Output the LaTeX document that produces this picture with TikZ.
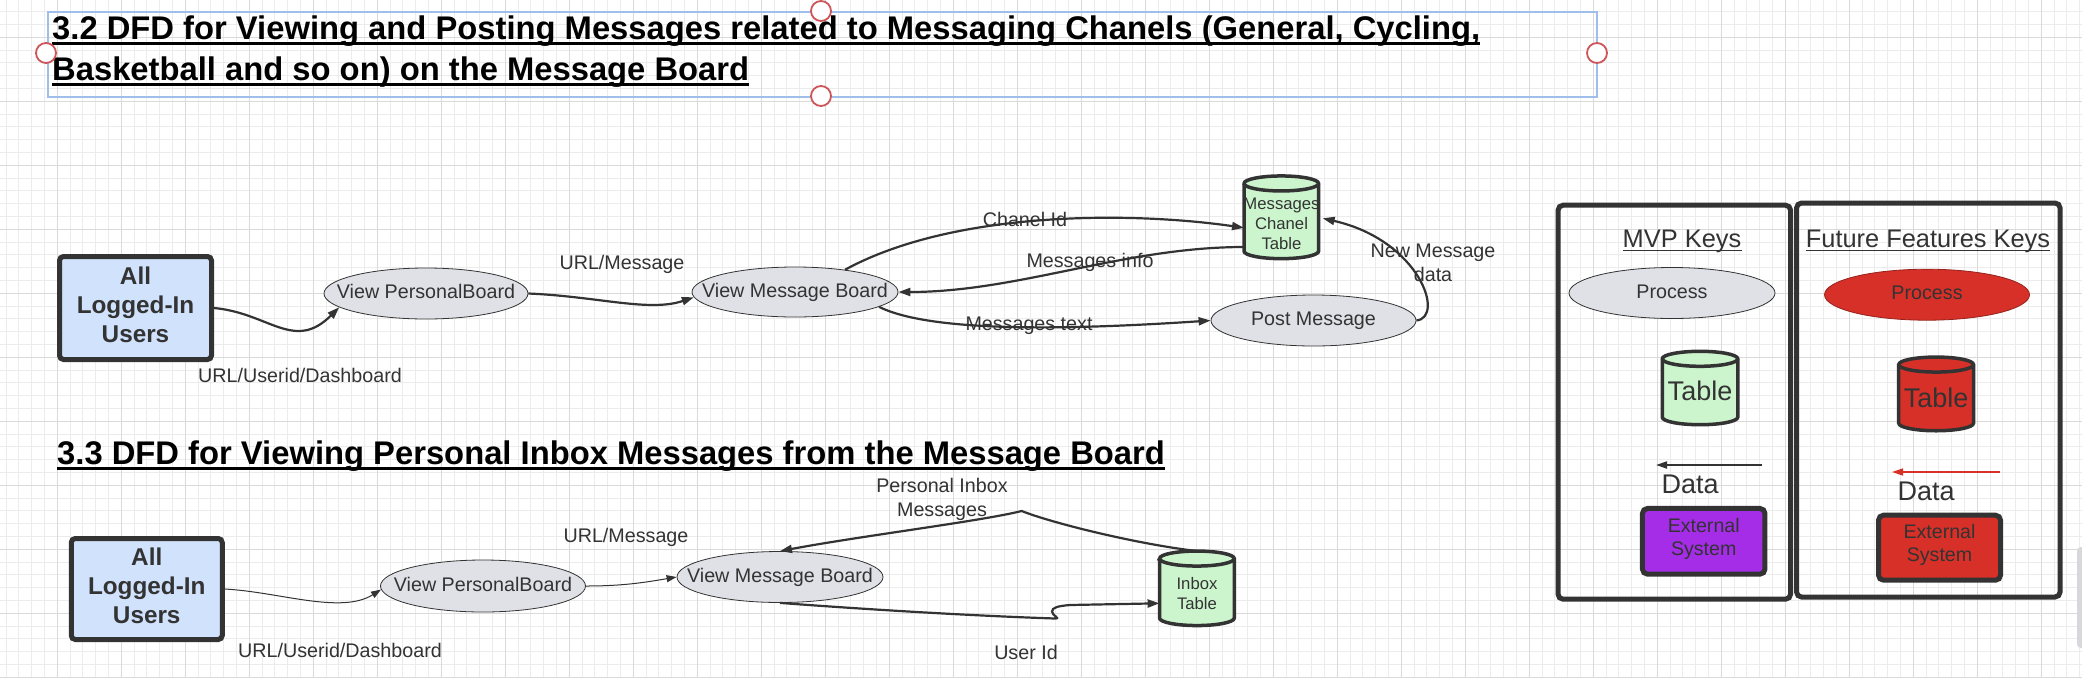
\documentclass[tikz,border=0pt]{standalone}
\usepackage{fontspec}
\setmainfont{Liberation Sans}
\usetikzlibrary{arrows.meta,calc,shapes.geometric}

\definecolor{ink}{RGB}{51,51,51}
\definecolor{procgrey}{RGB}{223,225,230}
\definecolor{tablegreen}{RGB}{204,245,206}
\definecolor{userblue}{RGB}{208,226,252}
\definecolor{keyred}{RGB}{214,48,40}
\definecolor{keypurple}{RGB}{165,45,232}
\definecolor{minorgrid}{RGB}{236,236,236}
\definecolor{majorgrid}{RGB}{218,218,218}
\definecolor{selblue}{RGB}{160,190,235}
\definecolor{handlered}{RGB}{205,85,90}
\definecolor{scrollgrey}{RGB}{215,215,220}

\newcommand{\drawcyl}[4]{%
  \draw[cylline, fill=#2] ($(#1.north west)+(0,#4)$) -- ($(#1.south west)+(0,-#4)$)
    arc[start angle=180, end angle=360, x radius=#3pt, y radius=#4pt]
    -- ($(#1.north east)+(0,#4)$)
    arc[start angle=0, end angle=180, x radius=#3pt, y radius=#4pt] -- cycle;
  \draw[cylline] ($(#1.north west)+(0,#4)$)
    arc[start angle=180, end angle=360, x radius=#3pt, y radius=#4pt];
}

\begin{document}
\begin{tikzpicture}[x=1pt,y=-1pt,
  proc/.style={ellipse, draw=ink, line width=0.8pt, fill=procgrey, inner sep=0pt, text=ink,
    text height=14.5pt, text depth=4pt, font=\fontsize{19.7}{23}\selectfont},
  users/.style={rectangle, rounded corners=4pt, draw=ink, line width=5pt, fill=userblue,
    align=center, text=ink, text depth=6.5pt, font=\fontsize{24.3}{29}\selectfont\bfseries, inner sep=0pt},
  cylbox/.style={rectangle, inner sep=0pt, outer sep=0pt},
  cylline/.style={draw=ink, line width=3.5pt},
  cyltext/.style={text=ink, align=center, inner sep=0pt, font=\fontsize{16.7}{20}\selectfont},
  lbl/.style={text=ink, align=center, inner sep=0pt, font=\fontsize{19.7}{24}\selectfont},
  flow/.style={draw=ink, line width=2.2pt, -{Triangle[length=12pt,width=8pt]}},
  thinflow/.style={draw=ink, line width=1pt, -{Triangle[length=10pt,width=7pt]}},
  titletext/.style={font=\fontsize{32.75}{39}\selectfont\bfseries, text=black, inner sep=0pt, anchor=base west},
  uline/.style={draw=black, line width=2.5pt},
  keybox/.style={rectangle, rounded corners=5pt, draw=ink, line width=5pt, inner sep=0pt},
  keytitle/.style={text=ink, inner sep=0pt, anchor=base, font=\fontsize{25.4}{30}\selectfont},
  keyuline/.style={draw=ink, line width=1.6pt},
  bigtext/.style={text=ink, inner sep=0pt, font=\fontsize{27}{30}\selectfont},
  extsys/.style={rectangle, rounded corners=5pt, draw=ink, line width=5pt, align=center, text=ink,
    text depth=9pt, font=\fontsize{19.6}{23.3}\selectfont, inner sep=0pt},
  dataflow/.style={draw=ink, line width=1.8pt, -{Triangle[length=11pt,width=7pt]}},
  reddataflow/.style={draw=keyred, line width=1.5pt, -{Triangle[length=11pt,width=7pt]}},
]
\useasboundingbox (0,0) rectangle (2082,678);
\fill[white] (0,0) rectangle (2082,678);

% background grid
\begin{scope}
\clip (0,0) rectangle (2082,678);
\foreach \i in {0,...,163} \draw[minorgrid, line width=1pt] ({6.1+12.8*\i},0) -- ++(0,678);
\foreach \i in {0,...,52} \draw[minorgrid, line width=1pt] (0,{11.7+12.8*\i}) -- ++(2082,0);
\foreach \i in {0,...,32} \draw[majorgrid, line width=1.2pt] ({57.3+64*\i},0) -- ++(0,678);
\foreach \i in {0,...,10} \draw[majorgrid, line width=1.2pt] (0,{37.3+64*\i}) -- ++(2082,0);
\fill[scrollgrey, rounded corners=4pt] (2077,547) rectangle (2095,648);
\end{scope}

% ===== title 3.2 with selection frame =====
\node[titletext] (t1a) at (52,39.5) {3.2 DFD for Viewing and Posting Messages related to Messaging Chanels (General, Cycling,};
\node[titletext] (t1b) at (52,80.5) {Basketball and so on) on the Message Board};
\draw[uline] ($(t1a.base west)+(0,4)$) -- ($(t1a.base east)+(0,4)$);
\draw[uline] ($(t1b.base west)+(0,4)$) -- ($(t1b.base east)+(0,4)$);
\draw[selblue, line width=1.3pt] (48,12) rectangle (1597,97);
\foreach \p in {(821,11),(46,53),(1597,53),(821,96)}
  \draw[handlered, line width=1.8pt, fill=white] \p circle[radius=10pt];

% ===== DFD 3.2 =====
\node[users, minimum width=152pt, minimum height=103pt] (u1) at (135.5,308) {All\\Logged-In\\Users};
\node[proc, minimum width=204pt, minimum height=51pt] (vpb1) at (426,293.5) {\makebox[0pt]{View PersonalBoard}};
\node[proc, minimum width=206pt, minimum height=50pt] (vmb1) at (795,292) {\makebox[0pt]{View Message Board}};
\node[proc, minimum width=205pt, minimum height=51pt] (pm) at (1313.5,320.5) {\makebox[0pt]{Post Message}};
\node[cylbox, minimum width=74.6pt, minimum height=82.7pt] (mct) at (1281.3,217.3) {};
\drawcyl{mct}{tablegreen}{37.3}{7.5}
\node[cyltext] (mcttxt) at (1281.5,224) {Messages\\Chanel\\Table};

\draw[flow] (u1.east) .. controls +(55,5) and +(-45,45) .. (vpb1.189);
\draw[flow] (vpb1.east) .. controls +(70,3) and +(-45,15) .. (vmb1.183);
\draw[flow] (vmb1.24) .. controls +(110,-60) and +(-110,-16) .. ($(mct.west)+(0,10.5)$);
\draw[flow] ($(mct.west)+(0,29.7)$) .. controls +(-120,0) and +(120,0) .. (vmb1.east);
\draw[flow] (vmb1.-10) .. controls +(50,25) and +(-150,10) .. (pm.west);
\draw[flow] (pm.east) .. controls +(29,-3) and +(97,22) .. ($(mct.east)+(4,1)$);

\node[lbl] (l1) at (300,375) {URL/Userid/Dashboard};
\node[lbl] (l2) at (622,264) {URL/Message};
\node[lbl] (l3) at (1025,219) {Chanel Id};
\node[lbl] (l4) at (1090,262) {Messages info};
\node[lbl] (l5) at (1029,326) {Messages text};
\node[lbl] (l6) at (1433,263) {New Message\\data};

% ===== title 3.3 =====
\node[titletext] (t2) at (57,464.3) {3.3 DFD for Viewing Personal Inbox Messages from the Message Board};
\draw[uline] ($(t2.base west)+(0,4.3)$) -- ($(t2.base east)+(0,4.3)$);

% ===== DFD 3.3 =====
\node[users, minimum width=151pt, minimum height=101pt] (u2) at (146.75,589) {All\\Logged-In\\Users};
\node[proc, minimum width=205pt, minimum height=52pt] (vpb2) at (483,586) {\makebox[0pt]{View PersonalBoard}};
\node[proc, minimum width=206pt, minimum height=51pt] (vmb2) at (780,577) {\makebox[0pt]{View Message Board}};
\node[cylbox, minimum width=74.7pt, minimum height=74.5pt] (it) at (1196.9,588.3) {};
\drawcyl{it}{tablegreen}{37.35}{7.5}
\node[cyltext] (ittxt) at (1197,594) {Inbox\\Table};
\coordinate (pk) at (1021.7,511);
\coordinate (hk) at (1052,611.5);

\draw[thinflow] (u2.east) .. controls +(55,3) and +(-40,25) .. (vpb2.182);
\draw[thinflow] (vpb2.east) .. controls +(35,0) and +(-35,6) .. (vmb2.west);
\draw[flow] (it.north) .. controls +(-60,-7) and +(30,12) .. (pk)
  .. controls +(-40,10) and +(80,-15) .. (vmb2.north);
\draw[flow] (vmb2.south) .. controls +(80,6) and +(-90,-3) .. (1055,618.5)
  .. controls +(6,0) and +(0,4) .. (hk)
  .. controls +(0,-4) and +(-12,1) .. (1070,605) -- ($(it.west)+(0,15)$);

\node[lbl] (l7) at (340,650) {URL/Userid/Dashboard};
\node[lbl] (l8) at (626,537) {URL/Message};
\node[lbl] (l9) at (942,499) {Personal Inbox\\Messages};
\node[lbl] (l10) at (1026,652) {User Id};

% ===== Keys =====
\node[keybox, minimum width=232.5pt, minimum height=394pt] (mvp) at (1674.3,402.2) {};
\node[keybox, minimum width=263.5pt, minimum height=394pt] (fut) at (1928.3,400) {};
\node[keytitle] (mvpt) at (1682,247.3) {MVP Keys};
\node[keytitle] (futt) at (1928,247.3) {Future Features Keys};
\draw[keyuline] ($(mvpt.base west)+(0,3)$) -- ($(mvpt.base east)+(0,3)$);
\draw[keyuline] ($(futt.base west)+(0,3)$) -- ($(futt.base east)+(0,3)$);

\node[proc, minimum width=206pt, minimum height=51pt] (kp1) at (1672,293) {\makebox[0pt]{Process}};
\node[proc, fill=keyred, draw=keyred!70!black, minimum width=205pt, minimum height=51pt] (kp2) at (1927,294.7) {\makebox[0pt]{Process}};

\node[cylbox, minimum width=75.5pt, minimum height=73.4pt] (kt1) at (1700,388) {};
\drawcyl{kt1}{tablegreen}{37.75}{7.5}
\node[bigtext] (kt1txt) at (1700,391) {Table};
\node[cylbox, minimum width=74.8pt, minimum height=73.7pt] (kt2) at (1936.1,393.9) {};
\drawcyl{kt2}{keyred}{37.4}{7.5}
\node[bigtext] (kt2txt) at (1936,398) {Table};

\coordinate (d1a) at (1762,465);
\coordinate (d1b) at (1656,465);
\draw[dataflow] (d1a) -- (d1b);
\node[bigtext] (d1t) at (1690,484) {Data};
\coordinate (d2a) at (2000,472);
\coordinate (d2b) at (1892,472);
\draw[reddataflow] (d2a) -- (d2b);
\node[bigtext] (d2t) at (1926,491) {Data};

\node[extsys, fill=keypurple, minimum width=122.5pt, minimum height=65.7pt] (ext1) at (1703.7,541.3) {External\\System};
\node[extsys, fill=keyred, minimum width=122pt, minimum height=65pt] (ext2) at (1939.5,547.7) {External\\System};
\end{tikzpicture}
\end{document}
